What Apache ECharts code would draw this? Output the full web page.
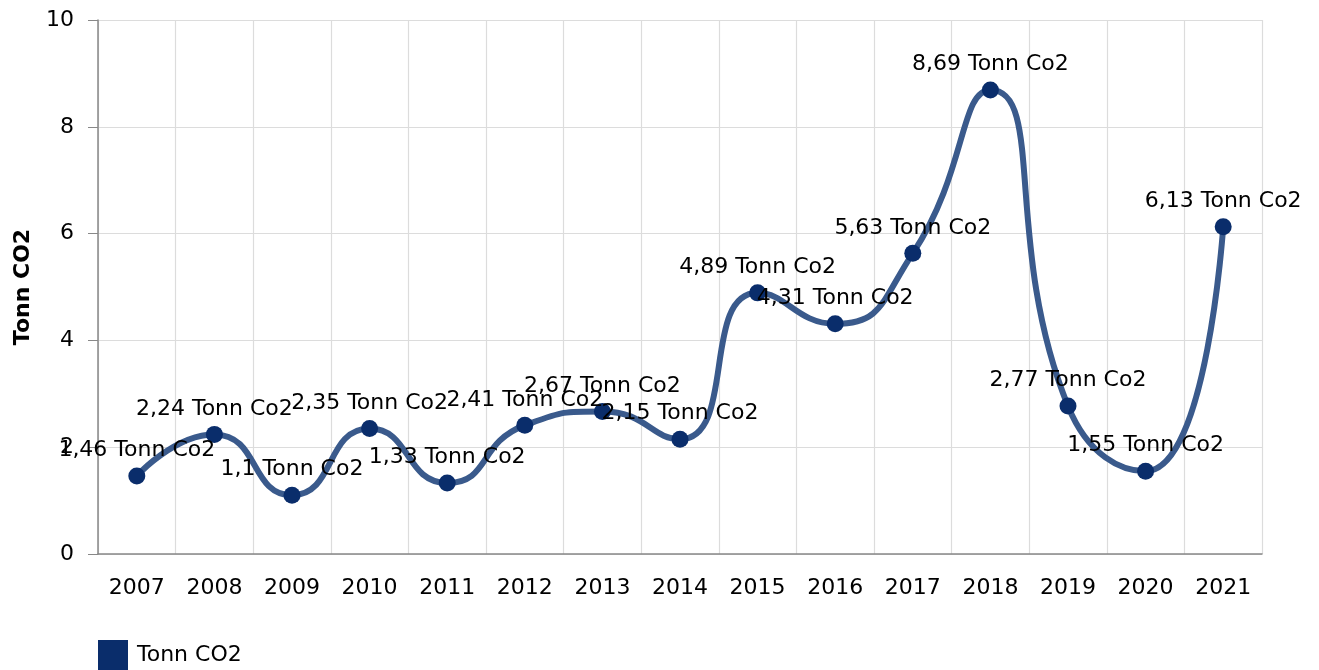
<!DOCTYPE html>
<html>
<head>
<meta charset="utf-8">
<script src="https://cdn.jsdelivr.net/npm/echarts@6/dist/echarts.min.js"></script>
<style>
  html, body { margin: 0; padding: 0; background: #fff; }
  #chart { width: 1319px; height: 670px; }
</style>
</head>
<body>
<div id="chart"></div>
<script>
// data
var years = ['2007', '2008', '2009', '2010', '2011', '2012', '2013', '2014', '2015', '2016', '2017', '2018', '2019', '2020', '2021'];
var tonnCo2 = [1.46, 2.24, 1.1, 2.35, 1.33, 2.41, 2.67, 2.15, 4.89, 4.31, 5.63, 8.69, 2.77, 1.55, 6.13];
var seriesName = 'Tonn CO2';
var labelUnit = ' Tonn Co2';

var font = 'DejaVu Sans';
var fs = 22;
var chart = echarts.init(document.getElementById('chart'));

chart.setOption({
    animation: false,
    textStyle: { fontFamily: font },
    legend: {
        left: 98,
        top: 640,
        padding: 0,
        itemWidth: 30,
        itemHeight: 30,
        icon: 'rect',
        itemGap: 10,
        textStyle: { fontSize: fs, color: '#000', fontFamily: font, padding: [12, 0, 0, 4] },
        data: [seriesName]
    },
    grid: {
        left: 98,
        right: 57,
        top: 20,
        bottom: 116
    },
    xAxis: {
        type: 'category',
        data: years,
        boundaryGap: true,
        axisLine: { lineStyle: { color: '#888', width: 1.5 } },
        axisTick: { alignWithLabel: true, length: 9, lineStyle: { color: '#888' } },
        axisLabel: { fontSize: fs, color: '#000', margin: 23, fontFamily: font },
        splitLine: { show: true, lineStyle: { color: '#dcdcdc', width: 1.2 } }
    },
    yAxis: {
        type: 'value',
        min: 0,
        max: 10,
        interval: 2,
        name: seriesName,
        nameLocation: 'middle',
        nameGap: 64,
        nameTextStyle: { fontSize: fs, fontWeight: 'bold', color: '#000', fontFamily: font },
        axisLine: { show: true, lineStyle: { color: '#888', width: 1.5 } },
        axisTick: { show: true, length: 10, lineStyle: { color: '#888' } },
        axisLabel: { fontSize: fs, color: '#000', margin: 24, fontFamily: font },
        splitLine: { show: true, lineStyle: { color: '#dcdcdc', width: 1.2 } }
    },
    series: [{
        name: seriesName,
        type: 'line',
        data: tonnCo2,
        smooth: 0.55,
        symbol: 'circle',
        symbolSize: 17,
        color: '#0a2d6b',
        itemStyle: { color: '#0a2d6b' },
        lineStyle: { color: '#3a5a8c', width: 6 },
        label: {
            show: true,
            position: 'top',
            distance: 6,
            fontSize: fs,
            color: '#000',
            fontFamily: font,
            formatter: function (p) {
                return String(p.value).replace('.', ',') + labelUnit;
            }
        },
        labelLayout: { hideOverlap: false }
    }]
});
</script>
</body>
</html>
